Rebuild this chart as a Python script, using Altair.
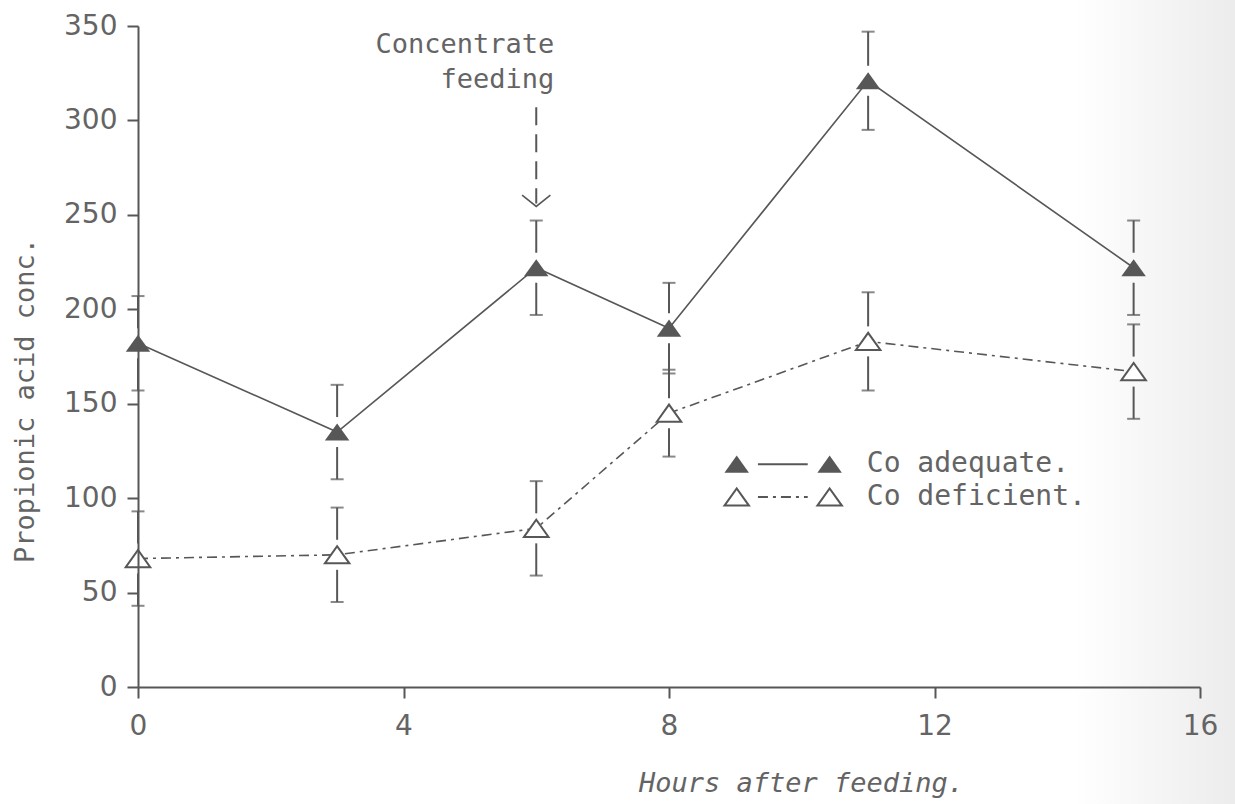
import altair as alt
import pandas as pd

# Propionic acid concentration after feeding, Co adequate vs Co deficient
hours = [0, 3, 6, 8, 11, 15]
co_adequate = [182, 135, 222, 190, 321, 222]
co_adequate_se = [25, 25, 25, 24, 26, 25]
co_deficient = [68, 70, 84, 145, 183, 167]
co_deficient_se = [25, 25, 25, 23, 26, 25]

series_names = ["Co adequate.", "Co deficient."]
x_tick_values = [0, 4, 8, 12, 16]
y_tick_values = [0, 50, 100, 150, 200, 250, 300, 350]
annotation_lines = ["Concentrate", "feeding"]
feeding_hour = 6
x_title = "Hours after feeding."
y_title = "Propionic acid conc."

# ---- layout / style ----
PLOT_W, PLOT_H = 1062, 661
PAD = {"left": 138, "top": 26, "right": 35, "bottom": 117}
X_DOMAIN = [0, 16]
Y_DOMAIN = [0, 350]
INK = "#575757"
TEXT = "#646464"
FONT = "DejaVu Sans"
TEXT_FONT = "DejaVu Sans Mono"
TRI = "M -1 0.7 L 0 -0.7 L 1 0.7 Z"
VEE = "M -1 -0.6 L 0 0.2 L 1 -0.6"
DASH_DOT = [10, 5, 3, 5]

x_per_px = (X_DOMAIN[1] - X_DOMAIN[0]) / PLOT_W
y_per_px = (Y_DOMAIN[1] - Y_DOMAIN[0]) / PLOT_H
bar_gap = 15 * y_per_px  # error bars stop short of the marker

xs = alt.Scale(domain=X_DOMAIN, nice=False, zero=False)
ys = alt.Scale(domain=Y_DOMAIN, nice=False, zero=False)

X_AXIS = alt.Axis(
    values=x_tick_values, grid=False, title=x_title, tickSize=11, tickWidth=2,
    tickColor=INK, domainColor=INK, domainWidth=2, labelFont=FONT,
    labelFontSize=28, labelColor=TEXT, labelPadding=14, labelFlush=False,
    titleFont=TEXT_FONT, titleFontSize=27, titleFontStyle="italic",
    titleFontWeight="normal", titleColor=TEXT, titleX=663, titleY=104,
    titleAlign="center", titleBaseline="alphabetic", zindex=1,
)
Y_AXIS = alt.Axis(
    values=y_tick_values, grid=False, title=y_title, tickSize=11, tickWidth=2,
    tickColor=INK, domainColor=INK, domainWidth=2, labelFont=FONT,
    labelFontSize=28, labelColor=TEXT, labelPadding=10,
    titleFont=TEXT_FONT, titleFontSize=27, titleFontWeight="normal",
    titleColor=TEXT, titleX=-113, titleY=374, titleAngle=-90,
    titleAlign="center", titleBaseline="middle", zindex=1,
)


def X(field):
    return alt.X(f"{field}:Q", scale=xs, axis=X_AXIS)


def Y(field):
    return alt.Y(f"{field}:Q", scale=ys, axis=Y_AXIS)


# ---- tables ----
points = pd.DataFrame({
    "hour": hours * 2,
    "value": co_adequate + co_deficient,
    "se": co_adequate_se + co_deficient_se,
    "series": [series_names[0]] * len(hours) + [series_names[1]] * len(hours),
})
adequate_pts = points[points.series == series_names[0]]
deficient_pts = points[points.series == series_names[1]]

seg_rows, cap_rows = [], []
for _, r in points.iterrows():
    seg_rows.append({"hour": r.hour, "y1": r.value + bar_gap, "y2": r.value + r.se})
    seg_rows.append({"hour": r.hour, "y1": r.value - r.se, "y2": r.value - bar_gap})
    cap_rows.append({"hour": r.hour, "y": r.value + r.se})
    cap_rows.append({"hour": r.hour, "y": r.value - r.se})
segs = pd.DataFrame(seg_rows)
caps = pd.DataFrame(cap_rows)

# legend placement (data units)
LEG_X1, LEG_X2, LEG_TX = 9.02, 10.42, 10.98
LEG_L1, LEG_L2 = 9.34, 10.09
LEG_Y = [118, 100.6]

# faint scanner shading towards the right edge, spanning the whole page
page = pd.DataFrame({
    "x0": [X_DOMAIN[0] - PAD["left"] * x_per_px],
    "x1": [X_DOMAIN[1] + PAD["right"] * x_per_px],
    "y0": [Y_DOMAIN[0] - PAD["bottom"] * y_per_px],
    "y1": [Y_DOMAIN[1] + PAD["top"] * y_per_px],
})
shade = alt.Chart(page).mark_rect(
    clip=False,
    color=alt.LinearGradient(
        gradient="linear", x1=0, x2=1, y1=0, y2=0,
        stops=[alt.GradientStop(color="rgba(236,236,236,0)", offset=0.87),
               alt.GradientStop(color="rgba(236,236,236,1)", offset=1)],
    ),
).encode(x=X("x0"), x2="x1:Q", y=Y("y0"), y2="y1:Q")

line_adequate = alt.Chart(adequate_pts).mark_line(
    color=INK, strokeWidth=1.6
).encode(x=X("hour"), y=Y("value"))
line_deficient = alt.Chart(deficient_pts).mark_line(
    color=INK, strokeWidth=1.6, strokeDash=DASH_DOT
).encode(x=X("hour"), y=Y("value"))

bars = alt.Chart(segs).mark_rule(color=INK, strokeWidth=2).encode(
    x=X("hour"), y=Y("y1"), y2="y2:Q",
)
cap_marks = alt.Chart(caps).mark_tick(
    color=INK, orient="horizontal", size=13, thickness=2
).encode(x=X("hour"), y=Y("y"))

tri_filled = alt.Chart(adequate_pts).mark_point(
    shape=TRI, size=600, filled=True, color=INK, opacity=1
).encode(x=X("hour"), y=Y("value"))
tri_open = alt.Chart(deficient_pts).mark_point(
    shape=TRI, size=600, filled=True, fill="white", stroke=INK,
    strokeWidth=2, opacity=1
).encode(x=X("hour"), y=Y("value"))

# "Concentrate feeding" marker with a dashed arrow
ann_df = pd.DataFrame({"hour": [feeding_hour], "top": [307], "tip": [256],
                       "label_y": [340]})
arrow_shaft = alt.Chart(ann_df).mark_rule(
    color=INK, strokeWidth=2, strokeDash=[18, 9]
).encode(x=X("hour"), y=Y("top"), y2="tip:Q")
arrow_head = alt.Chart(ann_df).mark_point(
    shape=VEE, size=800, filled=False, color=INK, strokeWidth=1.6, opacity=1
).encode(x=X("hour"), y=Y("tip"))
ann_text = alt.Chart(ann_df).mark_text(
    align="right", baseline="middle", dx=18, font=TEXT_FONT, fontSize=27,
    color=TEXT, lineHeight=35
).encode(x=X("hour"), y=Y("label_y"), text=alt.value(annotation_lines))

# hand-drawn style key
leg = pd.DataFrame({
    "series": series_names,
    "x1": [LEG_X1, LEG_X1], "x2": [LEG_X2, LEG_X2],
    "l1": [LEG_L1, LEG_L1], "l2": [LEG_L2, LEG_L2],
    "tx": [LEG_TX, LEG_TX], "y": LEG_Y,
})
leg_a = leg[leg.series == series_names[0]]
leg_d = leg[leg.series == series_names[1]]


def leg_tris(df, col, filled):
    kw = dict(shape=TRI, size=600, filled=True, opacity=1)
    if filled:
        kw.update(color=INK)
    else:
        kw.update(fill="white", stroke=INK, strokeWidth=2)
    return alt.Chart(df).mark_point(**kw).encode(x=X(col), y=Y("y"))


leg_line_a = alt.Chart(leg_a).mark_rule(color=INK, strokeWidth=2).encode(
    x=X("l1"), x2="l2:Q", y=Y("y"),
)
leg_line_d = alt.Chart(leg_d).mark_rule(
    color=INK, strokeWidth=2, strokeDash=DASH_DOT
).encode(x=X("l1"), x2="l2:Q", y=Y("y"))
leg_text = alt.Chart(leg).mark_text(
    align="left", baseline="middle", font=TEXT_FONT, fontSize=28, color=TEXT
).encode(x=X("tx"), y=Y("y"), text="series:N")

chart = alt.layer(
    shade,
    line_adequate, line_deficient, bars, cap_marks, tri_filled, tri_open,
    arrow_shaft, arrow_head, ann_text,
    leg_line_a, leg_line_d,
    leg_tris(leg_a, "x1", True), leg_tris(leg_a, "x2", True),
    leg_tris(leg_d, "x1", False), leg_tris(leg_d, "x2", False),
    leg_text,
).properties(
    width=PLOT_W, height=PLOT_H,
    autosize=alt.AutoSizeParams(type="none"),
    padding=PAD,
    background="white",
).configure_view(stroke=None)

chart.save("out.html", embed_options={"renderer": "svg", "actions": False})
